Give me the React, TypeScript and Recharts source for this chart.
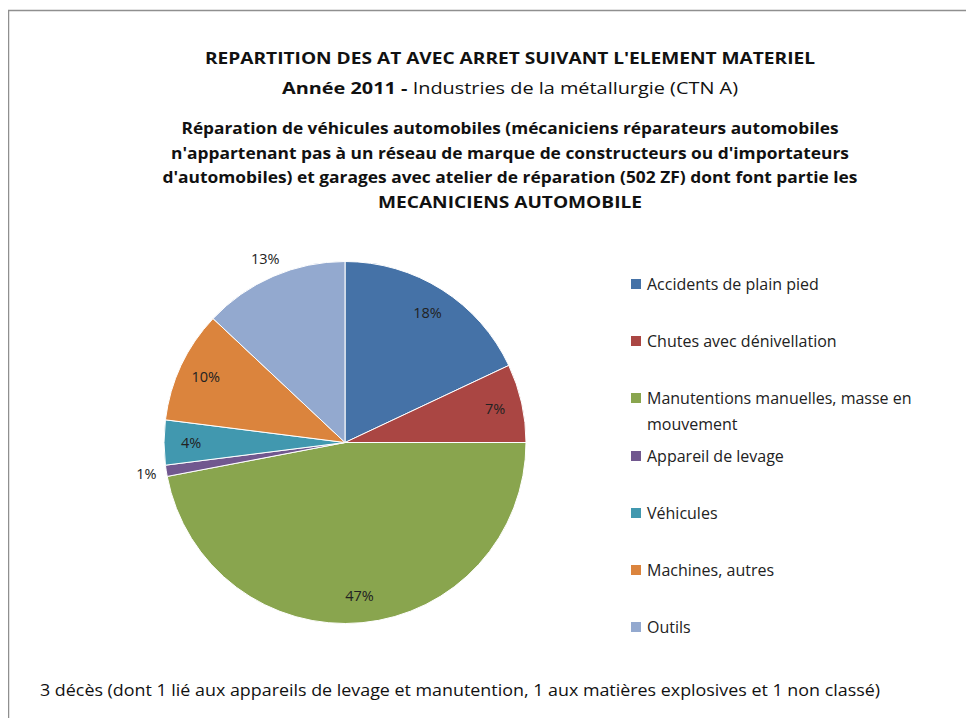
import { PieChart, Pie, Cell, Legend } from 'recharts';

const categories = [
  'Accidents de plain pied',
  'Chutes avec dénivellation',
  'Manutentions manuelles, masse en mouvement',
  'Appareil de levage',
  'Véhicules',
  'Machines, autres',
  'Outils',
];
const shares = [18, 7, 47, 1, 4, 10, 13];
const colors = ['#4572A7', '#AA4643', '#89A54E', '#71588F', '#4198AF', '#DB843D', '#93A9CF'];

const titleLine = 'REPARTITION DES AT AVEC ARRET SUIVANT L\'ELEMENT MATERIEL';
const subtitleBold = 'Année 2011  - ';
const subtitleRest = 'Industries de la métallurgie (CTN A)';
const descLines = [
  'Réparation de véhicules automobiles (mécaniciens réparateurs automobiles',
  'n\'appartenant pas à un réseau de marque de constructeurs ou d\'importateurs',
  'd\'automobiles) et garages avec atelier de réparation (502  ZF) dont font partie les',
  'MECANICIENS AUTOMOBILE',
];
const footnote = '3 décès (dont 1 lié aux appareils de levage et manutention, 1 aux matières explosives et 1 non classé)';

// labels Excel pushed outside the pie
const outsideLabels = ['Appareil de levage', 'Outils'];

const data = categories.map((name, i) => ({ name, value: shares[i] }));

const FONT = '"Open Sans", "DejaVu Sans", sans-serif';
const RAD = Math.PI / 180;

const renderLabel = (props: any) => {
  const { cx, cy, midAngle, outerRadius, value, name } = props;
  const outside = outsideLabels.includes(name);
  const r = outside ? outerRadius + 20 : outerRadius * 0.85;
  const x = cx + r * Math.cos(-midAngle * RAD);
  const y = cy + r * Math.sin(-midAngle * RAD);
  return (
    <text x={x} y={y} textAnchor="middle" dominantBaseline="central" fill="#222" fontSize={14.5} fontFamily={FONT}>
      {value}%
    </text>
  );
};

const renderLegend = (props: any) => {
  const items = [...(props.payload || [])].sort(
    (a: any, b: any) => categories.indexOf(a.value) - categories.indexOf(b.value)
  );
  return (
    <div style={{ fontFamily: FONT, fontSize: 16, color: '#222' }}>
      {items.map((entry: any) => (
        <div key={entry.value} style={{ height: 57.2, display: 'flex', alignItems: 'flex-start' }}>
          <span style={{ display: 'inline-block', width: 10, height: 10, background: entry.color, marginTop: 8, marginRight: 6, flexShrink: 0 }} />
          <span style={{ lineHeight: '26px', width: 300 }}>{entry.value}</span>
        </div>
      ))}
    </div>
  );
};

export default function App() {
  return (
    <div style={{ position: 'relative', width: 974, height: 726, margin: -8, background: '#fff', overflow: 'hidden' }}>
      <PieChart width={974} height={726} margin={{ top: 0, right: 0, bottom: 0, left: 0 }}>
        <Pie
          data={data}
          dataKey="value"
          nameKey="name"
          cx={345}
          cy={442.5}
          outerRadius={181}
          startAngle={90}
          endAngle={-270}
          stroke="#fff"
          strokeWidth={1}
          label={renderLabel}
          labelLine={false}
          isAnimationActive={false}
        >
          {data.map((d, i) => (
            <Cell key={d.name} fill={colors[i]} />
          ))}
        </Pie>
        <Legend
          layout="vertical"
          verticalAlign="top"
          align="right"
          itemSorter={null as any}
          content={renderLegend}
          wrapperStyle={{ top: 271, left: 631, right: 'auto', width: 330 }}
        />
      </PieChart>
      <svg width={974} height={726} style={{ position: 'absolute', left: 0, top: 0, pointerEvents: 'none' }}>
        <line x1={8} y1={10.5} x2={974} y2={10.5} stroke="#8f8f8f" strokeWidth={1.5} />
        <line x1={8.5} y1={10} x2={8.5} y2={726} stroke="#8f8f8f" strokeWidth={1.5} />
        <text x={510} y={64} textAnchor="middle" fontFamily={FONT} fontWeight="bold" fontSize={16} fill="#111" textLength={610} lengthAdjust="spacingAndGlyphs">
          {titleLine}
        </text>
        <text x={282} y={94} fontFamily={FONT} fontSize={16} fill="#111" textLength={456} lengthAdjust="spacingAndGlyphs">
          <tspan fontWeight="bold">{subtitleBold}</tspan>
          <tspan>{subtitleRest}</tspan>
        </text>
        {descLines.map((line, i) => {
          const widths = [657, 678, 695, 264];
          return (
            <text key={i} x={510} y={134 + i * 24.5} textAnchor="middle" fontFamily={FONT} fontWeight="bold" fontSize={16} fill="#111" textLength={widths[i]} lengthAdjust="spacingAndGlyphs">
              {line}
            </text>
          );
        })}
        <text x={40} y={696} fontFamily={FONT} fontSize={16} fill="#111" textLength={840} lengthAdjust="spacingAndGlyphs">
          {footnote}
        </text>
      </svg>
    </div>
  );
}
